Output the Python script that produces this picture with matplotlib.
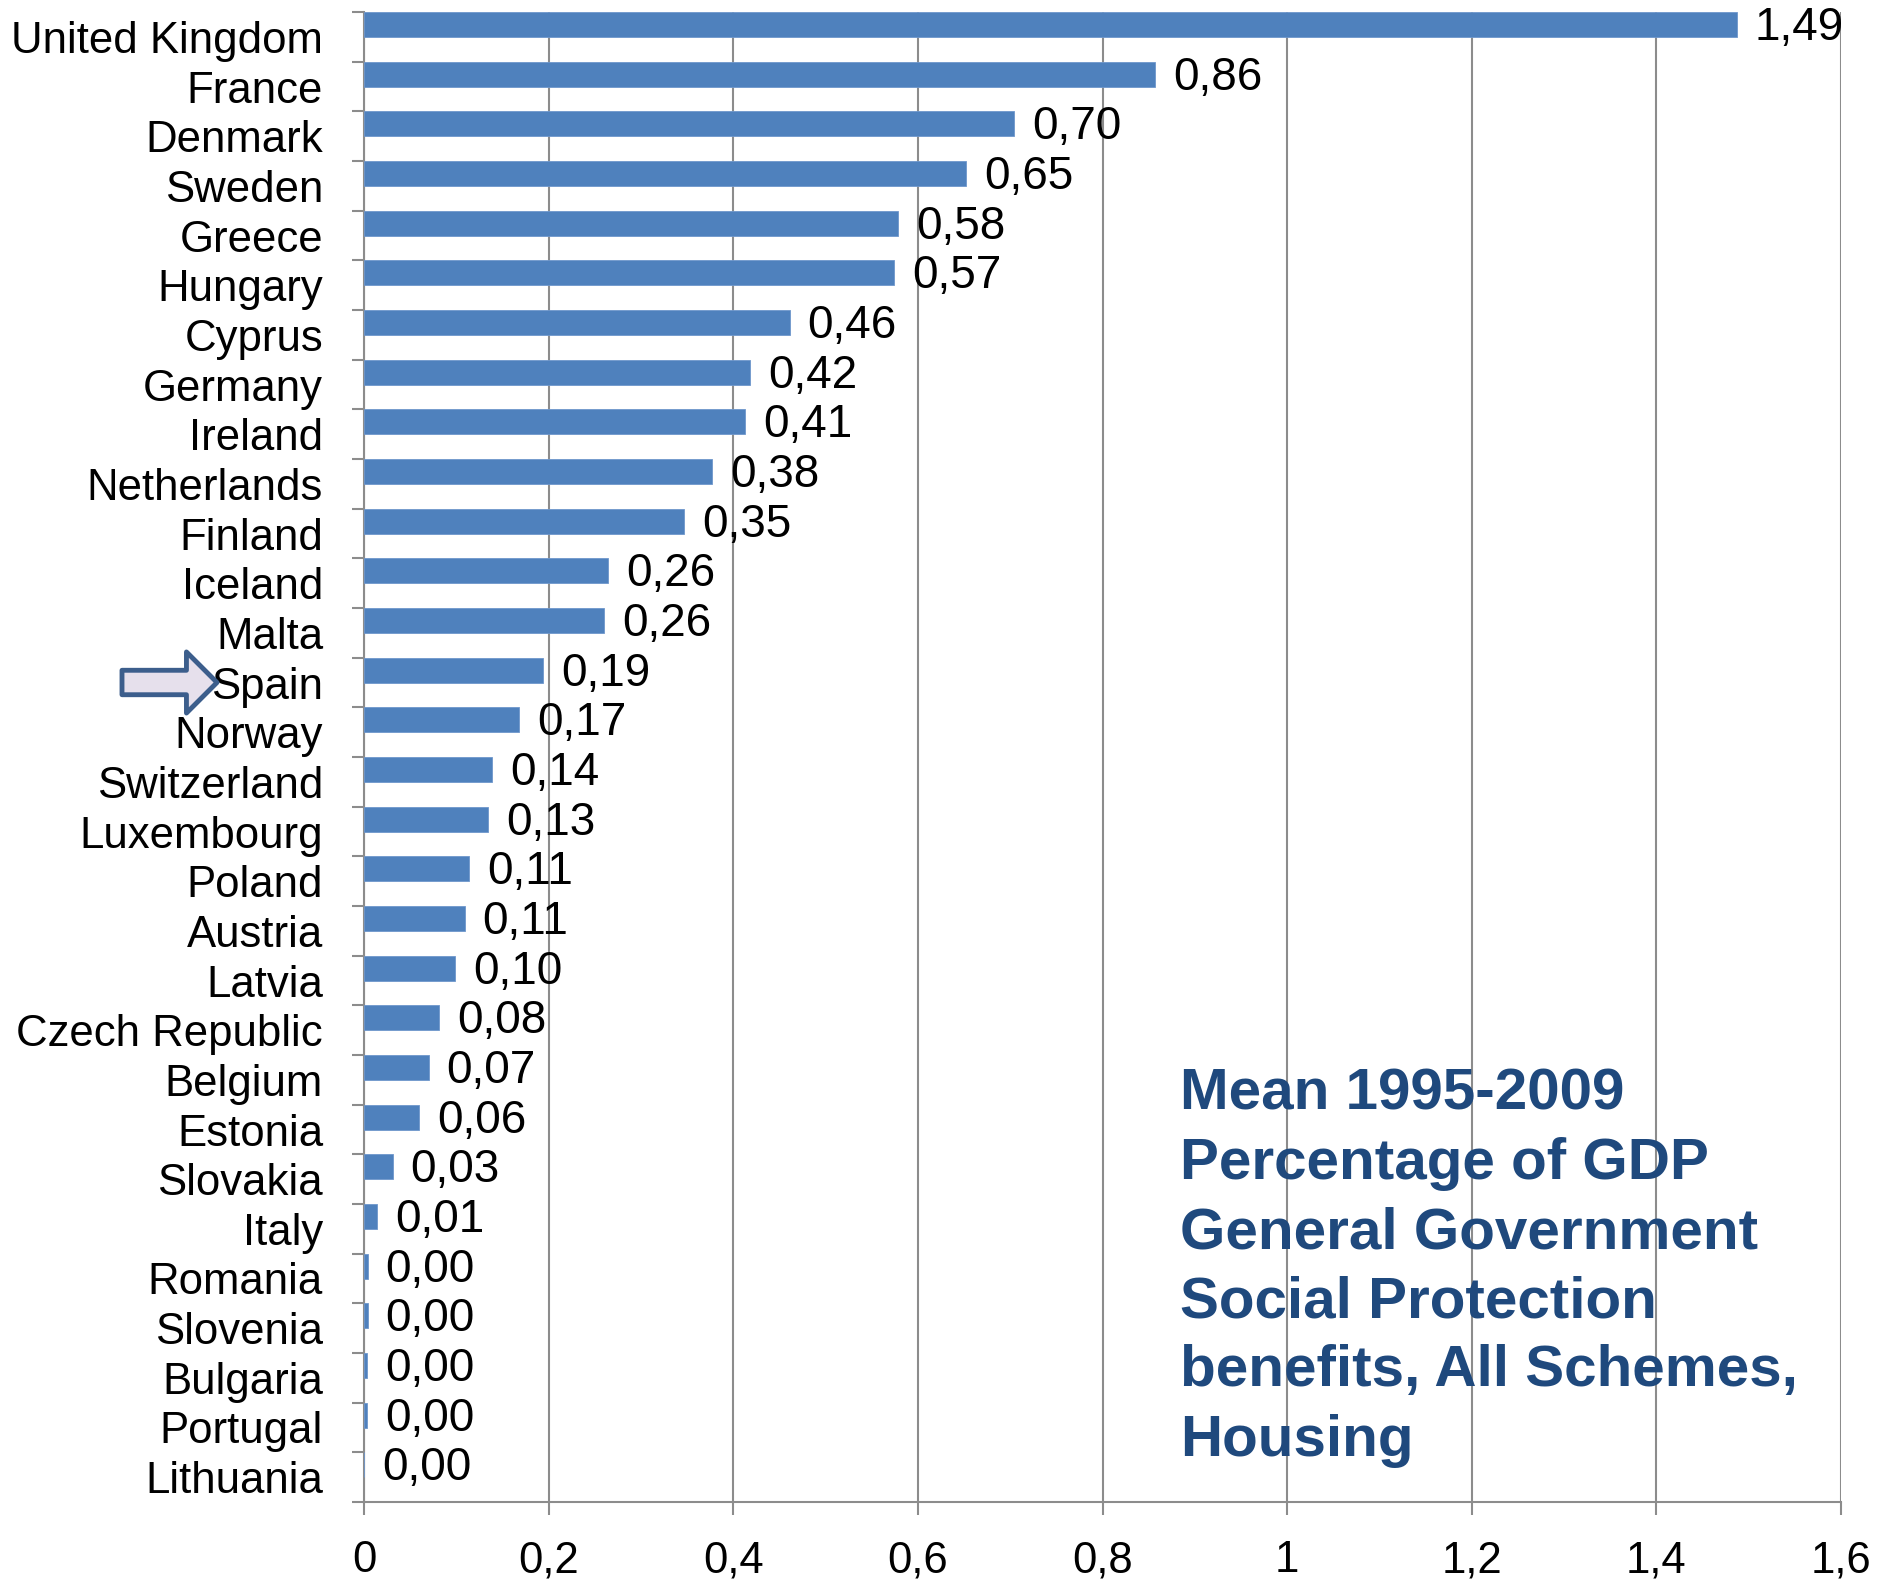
import matplotlib
matplotlib.use("Agg")
import matplotlib.pyplot as plt
from matplotlib import font_manager

countries = ["United Kingdom", "France", "Denmark", "Sweden", "Greece", "Hungary",
             "Cyprus", "Germany", "Ireland", "Netherlands", "Finland", "Iceland",
             "Malta", "Spain", "Norway", "Switzerland", "Luxembourg", "Poland",
             "Austria", "Latvia", "Czech Republic", "Belgium", "Estonia", "Slovakia",
             "Italy", "Romania", "Slovenia", "Bulgaria", "Portugal", "Lithuania"]
values = [1.487, 0.857, 0.704, 0.652, 0.579, 0.574,
          0.461, 0.418, 0.413, 0.377, 0.347, 0.264,
          0.260, 0.194, 0.168, 0.139, 0.134, 0.114,
          0.109, 0.099, 0.081, 0.070, 0.060, 0.031,
          0.014, 0.004, 0.004, 0.003, 0.003, 0.0]
xticks = [0, 0.2, 0.4, 0.6, 0.8, 1.0, 1.2, 1.4, 1.6]
xtick_labels = ["0", "0,2", "0,4", "0,6", "0,8", "1", "1,2", "1,4", "1,6"]
note = ("Mean 1995-2009\nPercentage of GDP\nGeneral Government\n"
        "Social Protection\nbenefits, All Schemes,\nHousing")
highlight = "Spain"

plt.rcParams['font.family'] = ['Liberation Sans', 'DejaVu Sans']

installed = {f.name for f in font_manager.fontManager.ttflist}
if "Liberation Sans Narrow" in installed:
    note_family, note_size = "Liberation Sans Narrow", 50
else:
    note_family, note_size = "Liberation Sans", 42

fig = plt.figure(figsize=(18.79, 15.80), dpi=100)
ax = fig.add_axes([364 / 1879, 78 / 1580, 1477 / 1879, 1490 / 1580])

pos = list(range(len(countries)))
# bars sit in the upper half of each category band
ax.barh([p - 0.25 for p in pos], values, height=0.5, color="#4F81BD",
        edgecolor="#6F97CC", linewidth=0.6, zorder=3)

for p, v in zip(pos, values):
    ax.annotate(f"{v:.2f}".replace(".", ","), xy=(v, p - 0.18), xytext=(13, 0),
                textcoords="offset points", va="center", ha="left", fontsize=33,
                zorder=4)

ax.set_xlim(0, 1.6)
ax.set_ylim(len(countries) - 0.5, -0.5)
ax.set_xticks(xticks)
ax.set_xticklabels(xtick_labels)
ax.set_yticks(pos)
ax.set_yticklabels(countries)
ax.set_yticks([p - 0.5 for p in pos] + [len(countries) - 0.5], minor=True)

ax.tick_params(axis="y", which="major", length=0, pad=29.5, labelsize=31.5)
ax.tick_params(axis="y", which="minor", length=9, width=1.5, color="#8C8C8C",
               direction="out")
ax.tick_params(axis="x", which="major", length=9.5, width=1.5, color="#8C8C8C",
               direction="out", pad=18, labelsize=31.5)

ax.grid(axis="x", color="#8C8C8C", linewidth=1.5, zorder=0)
ax.set_axisbelow(True)
for side in ["top", "right"]:
    ax.spines[side].set_visible(False)
for side in ["left", "bottom"]:
    ax.spines[side].set_color("#8C8C8C")
    ax.spines[side].set_linewidth(1.5)

fig.text(1180 / 1879, 1 - 1068 / 1580, note, family=note_family, fontsize=note_size,
         fontweight="bold", color="#1F497D", va="top", ha="left", linespacing=1.36)

# block arrow pointing at Spain
sp = countries.index(highlight)
ax.annotate("", xy=(217, sp), xytext=(122, sp),
            xycoords=("figure pixels", "data"), textcoords=("figure pixels", "data"),
            arrowprops=dict(arrowstyle="simple,head_length=0.5,head_width=1.0,tail_width=0.4",
                            mutation_scale=44, fc="#E6E0EC", ec="#3C5E8C", lw=3.5,
                            shrinkA=0, shrinkB=0),
            annotation_clip=False)

fig.savefig("out.png", dpi=100)
